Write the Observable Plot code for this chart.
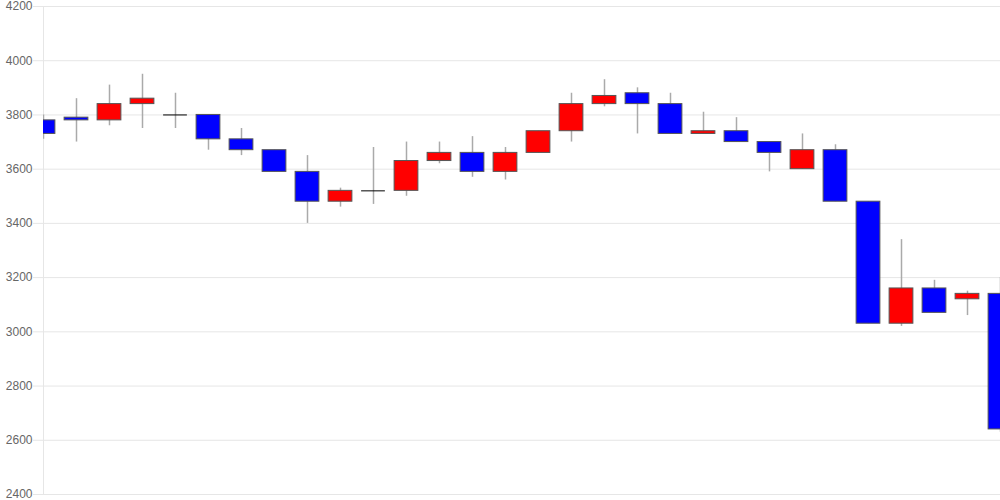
<!DOCTYPE html>
<html>
<head>
<meta charset="utf-8">
<script src="https://cdn.jsdelivr.net/npm/d3@7"></script>
<script src="https://cdn.jsdelivr.net/npm/@observablehq/plot@0.6"></script>
<style>
  html, body { margin: 0; padding: 0; background: #fff; }
  #chart { width: 1000px; height: 500px; }
</style>
</head>
<body>
<div id="chart"></div>
<script>
const days  = d3.range(30);
const open  = [3780,3790,3780,3840,3800,3800,3710,3670,3590,3480,3520,3520,3630,3660,3590,3660,3740,3840,3880,3840,3730,3740,3700,3600,3670,3480,3030,3160,3120,3140];
const close = [3730,3780,3840,3860,3800,3710,3670,3590,3480,3520,3520,3630,3660,3590,3660,3740,3840,3870,3840,3730,3740,3700,3660,3670,3480,3030,3160,3070,3140,2640];
const high  = [3800,3860,3910,3950,3880,3800,3750,3670,3650,3530,3680,3700,3700,3720,3680,3740,3880,3930,3900,3880,3810,3790,3700,3730,3690,3480,3340,3190,3150,3200];
const low   = [3710,3700,3760,3750,3750,3670,3650,3590,3400,3460,3470,3500,3620,3570,3560,3660,3700,3830,3730,3730,3730,3700,3590,3600,3480,3030,3020,3070,3060,2630];
const yTicks = [2400,2600,2800,3000,3200,3400,3600,3800,4000,4200];

const data = days.map((d, i) => ({i: d, open: open[i], close: close[i], high: high[i], low: low[i]}));
const bodies = data.filter(d => d.open !== d.close);
const dojis = data.filter(d => d.open === d.close);
const bodyFill = d => d.close > d.open ? "#ff0000" : "#0000ff";

const chart = Plot.plot({
  width: 1000,
  height: 500,
  marginLeft: 43,
  marginRight: 0,
  marginTop: 6,
  marginBottom: 6,
  style: {fontFamily: "'Liberation Sans', Arial, sans-serif", fontSize: "12px", background: "#fff"},
  x: {domain: [0, 29], axis: null},
  y: {domain: [2400, 4200], axis: null},
  color: {type: "identity"},
  marks: [
    Plot.gridY(yTicks, {stroke: "#e6e6e6", strokeOpacity: 1}),
    Plot.ruleX([0], {stroke: "#e6e6e6"}),
    Plot.axisY(yTicks, {tickSize: 10, tickPadding: 1, stroke: "#e6e6e6", fill: "#666", fontSize: 12, tickFormat: d => String(d)}),
    Plot.ruleX(data, {x: "i", y1: "low", y2: "high", stroke: "#aaa", strokeWidth: 1.5, clip: true}),
    Plot.rect(bodies, {x1: d => d.i - 0.36, x2: d => d.i + 0.36, y1: "open", y2: "close", fill: bodyFill, stroke: "#555", strokeWidth: 1, clip: true}),
    Plot.ruleY(dojis, {y: "open", x1: d => d.i - 0.36, x2: d => d.i + 0.36, stroke: "#000", strokeWidth: 1, clip: true})
  ]
});
document.getElementById("chart").appendChild(chart);
</script>
</body>
</html>
